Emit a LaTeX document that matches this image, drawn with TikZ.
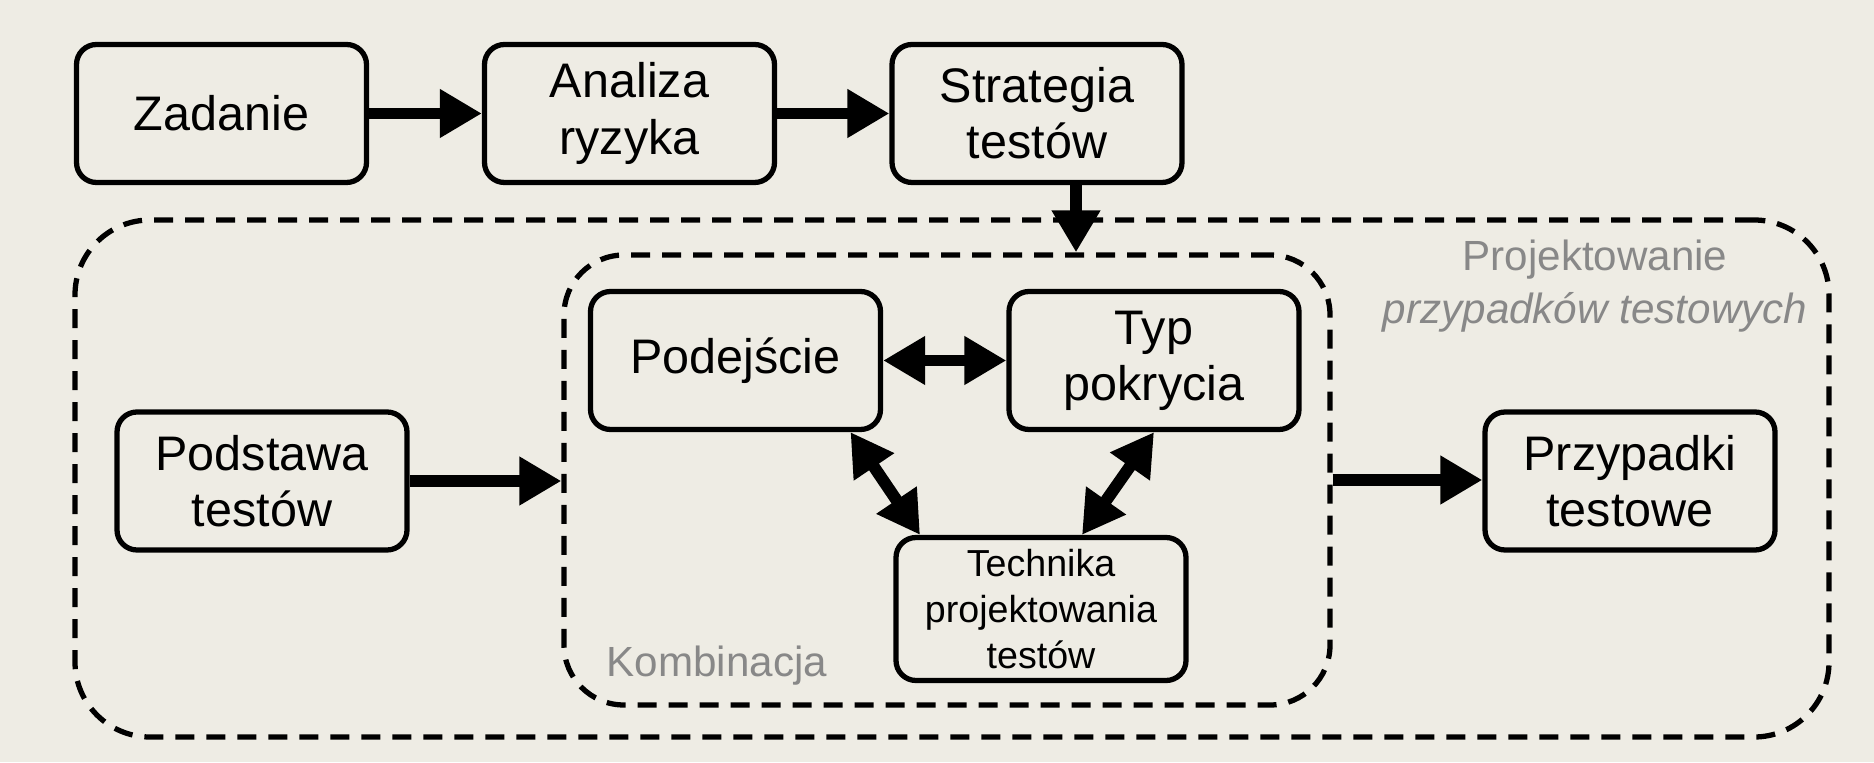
\documentclass[tikz,border=0pt]{standalone}
\usepackage{fontspec}
\setmainfont{Liberation Sans}
\usetikzlibrary{arrows.meta}
\definecolor{paper}{RGB}{238,236,228}
\definecolor{labelgray}{RGB}{136,136,136}

\begin{document}
\begin{tikzpicture}[
  box/.style={draw, line width=1.5pt, rounded corners=2mm, minimum width=2.9cm, minimum height=1.38cm, align=center, font=\fontsize{13.8}{16}\selectfont},
  frame/.style={draw, line width=1.5pt, dash pattern=on 1.9mm off 1.2mm, inner sep=0pt},
  flow/.style={line width=3.4pt, -{Triangle[length=4.2mm,width=4.6mm]}},
  both/.style={line width=3.4pt, {Triangle[length=4.2mm,width=4.6mm]}-{Triangle[length=4.2mm,width=4.6mm]}},
  note/.style={text=labelgray, font=\fontsize{12}{15.2}\selectfont, inner sep=0pt}
]
  \fill[paper] (0,0) rectangle (18.74,7.62);

  \node[frame, rounded corners=7.5mm, minimum width=17.54cm, minimum height=5.17cm] (proj) at (9.52,2.835) {};
  \node[frame, rounded corners=6mm, minimum width=7.66cm, minimum height=4.5cm] (komb) at (9.47,2.82) {};
  \node[note, align=center] (projLabel) at (15.95,4.76) {Projektowanie\\\textit{przypadków testowych}};
  \node[note, anchor=base west] (kombLabel) at (6.06,0.86) {Kombinacja};

  \node[box] (zadanie) at (2.215,6.485) {Zadanie};
  \node[box] (analiza) at (6.295,6.485) {Analiza\\ryzyka};
  \node[box] (strategia) at (10.37,6.485) {Strategia\\testów};
  \node[box] (podstawa) at (2.62,2.81) {Podstawa\\testów};
  \node[box] (podejscie) at (7.355,4.015) {Podejście};
  \node[box] (typ) at (11.54,4.015) {Typ\\pokrycia};
  \node[box, minimum height=1.43cm, font=\fontsize{10.7}{13}\selectfont] (technika) at (10.41,1.53) {Technika\\projektowania\\testów};
  \node[box] (przypadki) at (16.30,2.81) {Przypadki\\testowe};

  \draw[flow] (zadanie) -- (analiza);
  \draw[flow] (analiza) -- (strategia);
  \draw[flow] ([xshift=0.39cm]strategia.south) -- ([xshift=1.29cm]komb.north);
  \draw[flow] (podstawa.east) -- (podstawa.east -| komb.west);
  \draw[flow] (komb.east) -- (komb.east -| przypadki.west);
  \draw[both] (podejscie.east) -- (podejscie.east -| typ.west);
  \draw[both] ([xshift=1.15cm]podejscie.south) -- ([xshift=-1.21cm]technika.north);
  \draw[both] (typ.south) -- ([xshift=0.41cm]technika.north);
\end{tikzpicture}
\end{document}
